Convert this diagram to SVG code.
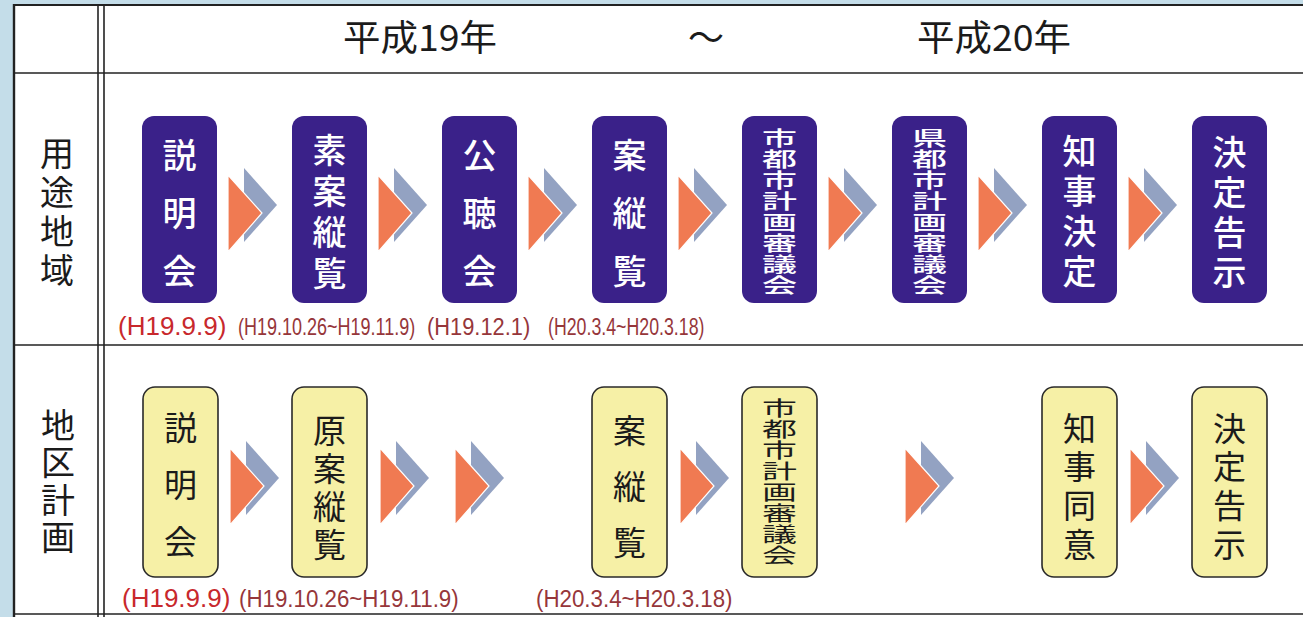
<svg xmlns="http://www.w3.org/2000/svg" width="1303" height="617" viewBox="0 0 1303 617">
<style>
.grid{stroke:#222;fill:none}
.pn{fill:#3a2189}
.yn{fill:#f6f0a6;stroke:#2a2a2a;stroke-width:1.6}
.v{writing-mode:vertical-rl;font-family:"Noto Sans CJK JP","Noto Sans CJK SC",sans-serif;text-anchor:start}
.wt{fill:#fff;font-weight:500}
.bt{fill:#1b1b1b;font-weight:400}
.hd{fill:#1b1b1b;font-family:"Noto Sans CJK JP","Noto Sans CJK SC",sans-serif;font-size:36px}
.lb{fill:#1b1b1b;font-size:34px}
.dt{fill:#96363a;font-family:"Liberation Sans",Arial,sans-serif;font-size:24px}
.dr{fill:#c8282c;font-size:26px}
</style>
<defs>
<g id="arr">
<polygon points="16,-7 49,30 16,67" fill="#93a2c2"/>
<polygon points="0,0 34,38 0,77" fill="#f07a52" stroke="#fff" stroke-width="1.2"/>
</g>
</defs>
<rect x="0" y="0" width="1303" height="617" fill="#c4dde9"/>
<rect x="14" y="5" width="1295" height="612" fill="#fff"/>
<g id="table" class="grid">
<line x1="14" y1="5" x2="1303" y2="5" stroke-width="2"/>
<line x1="14" y1="4" x2="14" y2="617" stroke-width="2.4"/>
<line x1="98" y1="5" x2="98" y2="617" stroke-width="1.6"/>
<line x1="104" y1="5" x2="104" y2="617" stroke-width="1.6"/>
<line x1="14" y1="73" x2="1303" y2="73" stroke-width="1.6"/>
<line x1="14" y1="345" x2="1303" y2="345" stroke-width="1.6"/>
<line x1="14" y1="614" x2="1303" y2="614" stroke-width="1.6"/>
</g>
<g id="header">
<text class="hd" x="343" y="51" textLength="154" lengthAdjust="spacingAndGlyphs">平成19年</text>
<text class="hd" x="706" y="51" text-anchor="middle">～</text>
<text class="hd" x="917" y="51" textLength="154" lengthAdjust="spacingAndGlyphs">平成20年</text>
</g>
<g id="row-label-youto">
<text class="v lb" x="57" y="136" letter-spacing="5">用途地域</text>
</g>
<g id="row-label-chiku">
<text class="v lb" x="58" y="408" letter-spacing="3.3">地区計画</text>
</g>
<g id="connectors">
<use href="#arr" x="228" y="175"/>
<use href="#arr" x="378" y="175"/>
<use href="#arr" x="528" y="175"/>
<use href="#arr" x="678" y="175"/>
<use href="#arr" x="828" y="175"/>
<use href="#arr" x="978" y="175"/>
<use href="#arr" x="1128" y="175"/>
<use href="#arr" x="230" y="448"/>
<use href="#arr" x="380" y="448"/>
<use href="#arr" x="455" y="448"/>
<use href="#arr" x="680" y="448"/>
<use href="#arr" x="905" y="448"/>
<use href="#arr" x="1130" y="448"/>
</g>
<g id="t1">
<rect class="pn" x="142" y="116" width="75" height="187" rx="12"/>
<text class="v wt" font-size="34" letter-spacing="24" x="179.5" y="138">説明会</text>
</g>
<g id="t2">
<rect class="pn" x="292" y="116" width="75" height="187" rx="12"/>
<text class="v wt" font-size="34" letter-spacing="7" x="329.5" y="133">素案縦覧</text>
</g>
<g id="t3">
<rect class="pn" x="442" y="116" width="75" height="187" rx="12"/>
<text class="v wt" font-size="34" letter-spacing="24" x="479.5" y="138">公聴会</text>
</g>
<g id="t4">
<rect class="pn" x="592" y="116" width="75" height="187" rx="12"/>
<text class="v wt" font-size="34" letter-spacing="24" x="629.5" y="138">案縦覧</text>
</g>
<g id="t5">
<rect class="pn" x="742" y="116" width="75" height="187" rx="12"/>
<g transform="translate(779.5,0) scale(1.75,1)">
<text class="v wt" font-size="20" letter-spacing="1" x="0" y="128">市都市計画審議会</text>
</g>
</g>
<g id="t6">
<rect class="pn" x="892" y="116" width="75" height="187" rx="12"/>
<g transform="translate(929.5,0) scale(1.75,1)">
<text class="v wt" font-size="20" letter-spacing="1" x="0" y="128">県都市計画審議会</text>
</g>
</g>
<g id="t7">
<rect class="pn" x="1042" y="116" width="75" height="187" rx="12"/>
<text class="v wt" font-size="34" letter-spacing="6" x="1079.5" y="134">知事決定</text>
</g>
<g id="t8">
<rect class="pn" x="1192" y="116" width="75" height="187" rx="12"/>
<text class="v wt" font-size="34" letter-spacing="6" x="1229.5" y="135">決定告示</text>
</g>
<g id="b1">
<rect class="yn" x="143" y="387" width="75" height="190" rx="12"/>
<text class="v bt" font-size="33" letter-spacing="24" x="180.5" y="410.5">説明会</text>
</g>
<g id="b2">
<rect class="yn" x="292" y="387" width="75" height="190" rx="12"/>
<text class="v bt" font-size="33" letter-spacing="5" x="329.5" y="413.5">原案縦覧</text>
</g>
<g id="b4">
<rect class="yn" x="592" y="387" width="75" height="190" rx="12"/>
<text class="v bt" font-size="33" letter-spacing="23" x="629.5" y="413.5">案縦覧</text>
</g>
<g id="b5">
<rect class="yn" x="742" y="387" width="75" height="190" rx="12"/>
<g transform="translate(779.5,0) scale(1.75,1)">
<text class="v bt" font-size="20" letter-spacing="1.1" x="0" y="398">市都市計画審議会</text>
</g>
</g>
<g id="b7">
<rect class="yn" x="1042" y="387" width="75" height="190" rx="12"/>
<text class="v bt" font-size="33" letter-spacing="5.7" x="1079.5" y="411.5">知事同意</text>
</g>
<g id="b8">
<rect class="yn" x="1192" y="387" width="75" height="190" rx="12"/>
<text class="v bt" font-size="33" letter-spacing="5.7" x="1229.5" y="411.5">決定告示</text>
</g>
<g id="dates">
<text class="dt dr" x="118" y="335">(H19.9.9)</text>
<text class="dt" transform="translate(238,335) scale(0.75,1)">(H19.10.26~H19.11.9)</text>
<text class="dt" transform="translate(427,335) scale(0.91,1)">(H19.12.1)</text>
<text class="dt" transform="translate(548,335) scale(0.74,1)">(H20.3.4~H20.3.18)</text>
<text class="dt dr" x="122" y="607">(H19.9.9)</text>
<text class="dt" transform="translate(239,607) scale(0.93,1)">(H19.10.26~H19.11.9)</text>
<text class="dt" transform="translate(536,607) scale(0.93,1)">(H20.3.4~H20.3.18)</text>
</g>
</svg>
